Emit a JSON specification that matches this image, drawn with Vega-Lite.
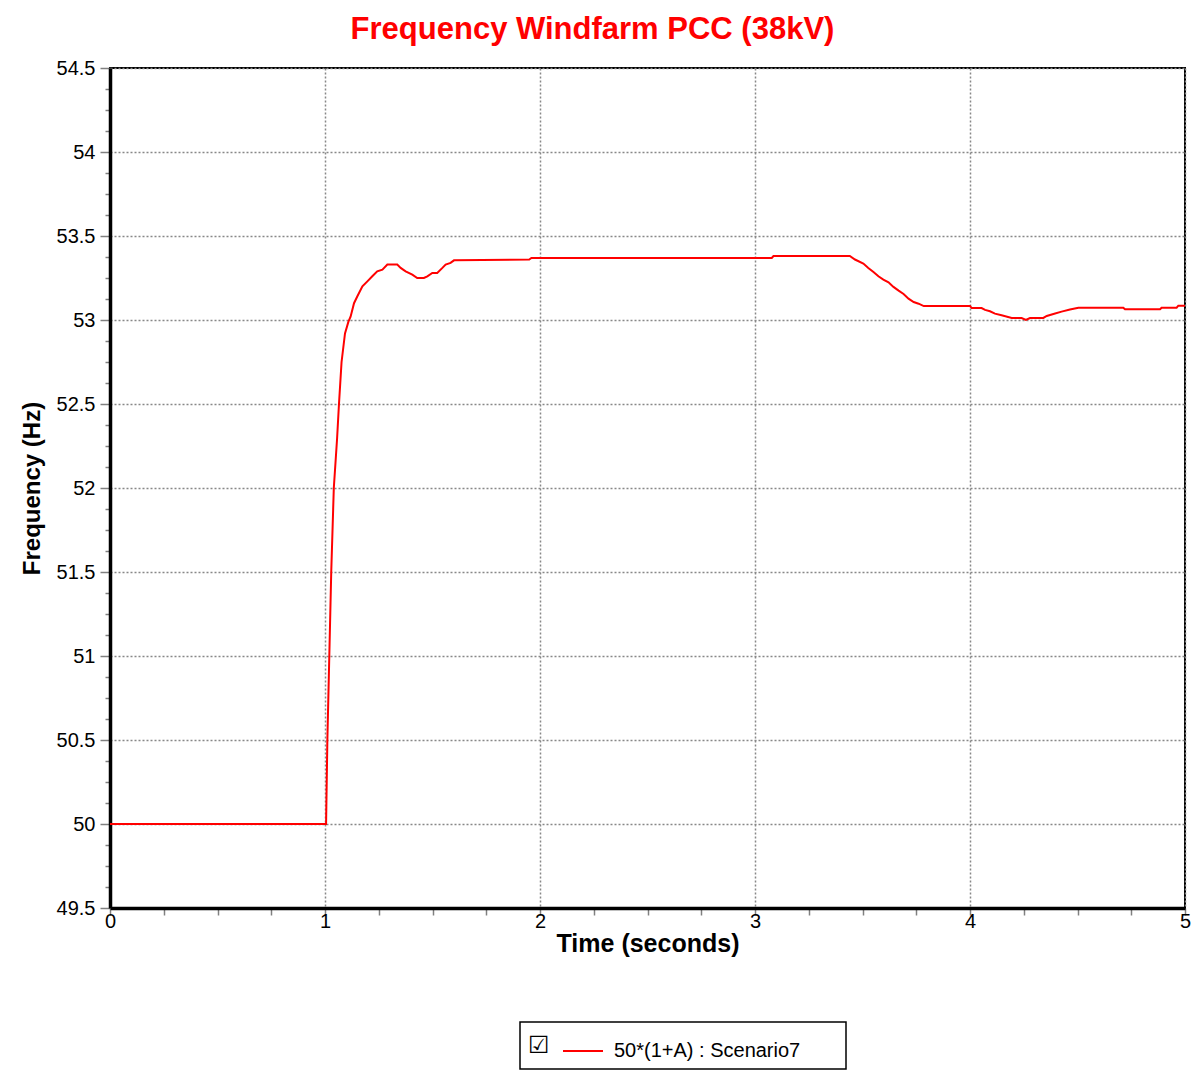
{
  "$schema": "https://vega.github.io/schema/vega-lite/v6.json",
  "autosize": {"type": "none"},
  "width": 1075,
  "height": 840,
  "padding": {"left": 110, "top": 68, "right": 12, "bottom": 173},
  "background": "white",
  "title": {
    "text": "Frequency Windfarm PCC (38kV)",
    "color": "#ff0000",
    "font": "Liberation Sans",
    "fontSize": 31,
    "fontWeight": "bold",
    "anchor": "middle",
    "frame": "group",
    "dx": -55,
    "dy": 37,
    "baseline": "alphabetic",
    "offset": 25
  },
  "config": {
    "view": {"stroke": "#000000", "strokeWidth": 2},
    "axis": {
      "labelFont": "Liberation Sans",
      "labelFontSize": 20,
      "labelColor": "#000000",
      "labelFlush": false,
      "titleFont": "Liberation Sans",
      "titleFontSize": 24,
      "titleFontWeight": "bold",
      "titleColor": "#000000",
      "domainColor": "#000000",
      "domainWidth": 3.5,
      "tickColor": "#808080",
      "tickWidth": 1.5,
      "gridColor": "#888888",
      "gridDash": [2, 2],
      "gridWidth": 1.5,
      "labelOverlap": false
    }
  },
  "data": {
    "values": [
      {"t": 0, "f": 50, "s": "50*(1+A) : Scenario7"},
      {"t": 1.0, "f": 50, "s": "50*(1+A) : Scenario7"},
      {"t": 1.005, "f": 50.0, "s": "50*(1+A) : Scenario7"},
      {"t": 1.011, "f": 50.5, "s": "50*(1+A) : Scenario7"},
      {"t": 1.020, "f": 51.0, "s": "50*(1+A) : Scenario7"},
      {"t": 1.029, "f": 51.5, "s": "50*(1+A) : Scenario7"},
      {"t": 1.041, "f": 52.0, "s": "50*(1+A) : Scenario7"},
      {"t": 1.056, "f": 52.29, "s": "50*(1+A) : Scenario7"},
      {"t": 1.065, "f": 52.5, "s": "50*(1+A) : Scenario7"},
      {"t": 1.077, "f": 52.75, "s": "50*(1+A) : Scenario7"},
      {"t": 1.093, "f": 52.92, "s": "50*(1+A) : Scenario7"},
      {"t": 1.109, "f": 52.99, "s": "50*(1+A) : Scenario7"},
      {"t": 1.119, "f": 53.02, "s": "50*(1+A) : Scenario7"},
      {"t": 1.135, "f": 53.10, "s": "50*(1+A) : Scenario7"},
      {"t": 1.150, "f": 53.14, "s": "50*(1+A) : Scenario7"},
      {"t": 1.174, "f": 53.20, "s": "50*(1+A) : Scenario7"},
      {"t": 1.197, "f": 53.23, "s": "50*(1+A) : Scenario7"},
      {"t": 1.220, "f": 53.26, "s": "50*(1+A) : Scenario7"},
      {"t": 1.243, "f": 53.29, "s": "50*(1+A) : Scenario7"},
      {"t": 1.267, "f": 53.30, "s": "50*(1+A) : Scenario7"},
      {"t": 1.290, "f": 53.33, "s": "50*(1+A) : Scenario7"},
      {"t": 1.336, "f": 53.33, "s": "50*(1+A) : Scenario7"},
      {"t": 1.352, "f": 53.31, "s": "50*(1+A) : Scenario7"},
      {"t": 1.375, "f": 53.29, "s": "50*(1+A) : Scenario7"},
      {"t": 1.406, "f": 53.27, "s": "50*(1+A) : Scenario7"},
      {"t": 1.429, "f": 53.25, "s": "50*(1+A) : Scenario7"},
      {"t": 1.460, "f": 53.25, "s": "50*(1+A) : Scenario7"},
      {"t": 1.476, "f": 53.26, "s": "50*(1+A) : Scenario7"},
      {"t": 1.499, "f": 53.28, "s": "50*(1+A) : Scenario7"},
      {"t": 1.522, "f": 53.28, "s": "50*(1+A) : Scenario7"},
      {"t": 1.546, "f": 53.31, "s": "50*(1+A) : Scenario7"},
      {"t": 1.561, "f": 53.33, "s": "50*(1+A) : Scenario7"},
      {"t": 1.584, "f": 53.34, "s": "50*(1+A) : Scenario7"},
      {"t": 1.600, "f": 53.355, "s": "50*(1+A) : Scenario7"},
      {"t": 1.95, "f": 53.36, "s": "50*(1+A) : Scenario7"},
      {"t": 1.96, "f": 53.369, "s": "50*(1+A) : Scenario7"},
      {"t": 3.078, "f": 53.369, "s": "50*(1+A) : Scenario7"},
      {"t": 3.086, "f": 53.381, "s": "50*(1+A) : Scenario7"},
      {"t": 3.441, "f": 53.381, "s": "50*(1+A) : Scenario7"},
      {"t": 3.465, "f": 53.36, "s": "50*(1+A) : Scenario7"},
      {"t": 3.504, "f": 53.336, "s": "50*(1+A) : Scenario7"},
      {"t": 3.527, "f": 53.31, "s": "50*(1+A) : Scenario7"},
      {"t": 3.551, "f": 53.286, "s": "50*(1+A) : Scenario7"},
      {"t": 3.574, "f": 53.26, "s": "50*(1+A) : Scenario7"},
      {"t": 3.597, "f": 53.24, "s": "50*(1+A) : Scenario7"},
      {"t": 3.621, "f": 53.224, "s": "50*(1+A) : Scenario7"},
      {"t": 3.644, "f": 53.197, "s": "50*(1+A) : Scenario7"},
      {"t": 3.668, "f": 53.175, "s": "50*(1+A) : Scenario7"},
      {"t": 3.691, "f": 53.155, "s": "50*(1+A) : Scenario7"},
      {"t": 3.714, "f": 53.127, "s": "50*(1+A) : Scenario7"},
      {"t": 3.738, "f": 53.107, "s": "50*(1+A) : Scenario7"},
      {"t": 3.761, "f": 53.097, "s": "50*(1+A) : Scenario7"},
      {"t": 3.785, "f": 53.083, "s": "50*(1+A) : Scenario7"},
      {"t": 4.0, "f": 53.083, "s": "50*(1+A) : Scenario7"},
      {"t": 4.008, "f": 53.071, "s": "50*(1+A) : Scenario7"},
      {"t": 4.054, "f": 53.071, "s": "50*(1+A) : Scenario7"},
      {"t": 4.07, "f": 53.06, "s": "50*(1+A) : Scenario7"},
      {"t": 4.093, "f": 53.052, "s": "50*(1+A) : Scenario7"},
      {"t": 4.116, "f": 53.038, "s": "50*(1+A) : Scenario7"},
      {"t": 4.147, "f": 53.028, "s": "50*(1+A) : Scenario7"},
      {"t": 4.194, "f": 53.012, "s": "50*(1+A) : Scenario7"},
      {"t": 4.240, "f": 53.012, "s": "50*(1+A) : Scenario7"},
      {"t": 4.26, "f": 53.0, "s": "50*(1+A) : Scenario7"},
      {"t": 4.279, "f": 53.012, "s": "50*(1+A) : Scenario7"},
      {"t": 4.341, "f": 53.012, "s": "50*(1+A) : Scenario7"},
      {"t": 4.357, "f": 53.024, "s": "50*(1+A) : Scenario7"},
      {"t": 4.388, "f": 53.036, "s": "50*(1+A) : Scenario7"},
      {"t": 4.426, "f": 53.05, "s": "50*(1+A) : Scenario7"},
      {"t": 4.465, "f": 53.062, "s": "50*(1+A) : Scenario7"},
      {"t": 4.504, "f": 53.073, "s": "50*(1+A) : Scenario7"},
      {"t": 4.713, "f": 53.073, "s": "50*(1+A) : Scenario7"},
      {"t": 4.721, "f": 53.064, "s": "50*(1+A) : Scenario7"},
      {"t": 4.884, "f": 53.064, "s": "50*(1+A) : Scenario7"},
      {"t": 4.891, "f": 53.073, "s": "50*(1+A) : Scenario7"},
      {"t": 4.961, "f": 53.073, "s": "50*(1+A) : Scenario7"},
      {"t": 4.969, "f": 53.085, "s": "50*(1+A) : Scenario7"},
      {"t": 5.0, "f": 53.085, "s": "50*(1+A) : Scenario7"}
    ]
  },
  "mark": {"type": "line", "strokeWidth": 2, "interpolate": "linear"},
  "encoding": {
    "x": {
      "field": "t",
      "type": "quantitative",
      "scale": {"domain": [0, 5], "nice": false, "zero": false},
      "axis": {
        "title": "Time (seconds)",
        "titleFontSize": 25,
        "values": [0, 0.25, 0.5, 0.75, 1, 1.25, 1.5, 1.75, 2, 2.25, 2.5, 2.75, 3, 3.25, 3.5, 3.75, 4, 4.25, 4.5, 4.75, 5],
        "labelExpr": "datum.value % 1 === 0 ? toString(datum.value) : ''",
        "tickSize": 7,
        "labelPadding": -4,
        "titlePadding": 0,
        "gridOpacity": {"condition": {"test": "datum.value % 1 === 0", "value": 1}, "value": 0}
      }
    },
    "y": {
      "field": "f",
      "type": "quantitative",
      "scale": {"domain": [49.5, 54.5], "nice": false, "zero": false},
      "axis": {
        "title": "Frequency (Hz)",
        "values": [49.5, 49.625, 49.75, 49.875, 50, 50.125, 50.25, 50.375, 50.5, 50.625, 50.75, 50.875, 51, 51.125, 51.25, 51.375, 51.5, 51.625, 51.75, 51.875, 52, 52.125, 52.25, 52.375, 52.5, 52.625, 52.75, 52.875, 53, 53.125, 53.25, 53.375, 53.5, 53.625, 53.75, 53.875, 54, 54.125, 54.25, 54.375, 54.5],
        "labelExpr": "datum.value % 0.5 === 0 ? toString(datum.value) : ''",
        "tickSize": {"condition": {"test": "datum.value % 0.5 === 0", "value": 10}, "value": 5},
        "labelPadding": 5,
        "titlePadding": 12,
        "gridOpacity": {"condition": {"test": "datum.value % 0.5 === 0", "value": 1}, "value": 0}
      }
    },
    "color": {
      "field": "s",
      "type": "nominal",
      "scale": {"range": ["#ff0000"]},
      "legend": {
        "title": "☑",
        "titleFontSize": 24,
        "titleFont": "DejaVu Sans",
        "titleFontWeight": "normal",
        "titleColor": "#000000",
        "titleOrient": "left",
        "titlePadding": 12,
        "orient": "none",
        "legendX": 410,
        "legendY": 954,
        "direction": "horizontal",
        "symbolType": "stroke",
        "symbolSize": 1600,
        "symbolStrokeWidth": 2,
        "labelFont": "Liberation Sans",
        "labelFontSize": 20,
        "labelColor": "#000000",
        "labelLimit": 500,
        "labelOffset": 10,
        "labelExpr": "datum.label + '    \u2800'",
        "padding": 8,
        "strokeColor": "#000000",
        "fillColor": "#ffffff",
        "encode": {"legend": {"update": {"strokeWidth": {"value": 1.5}}}}
      }
    }
  }
}
